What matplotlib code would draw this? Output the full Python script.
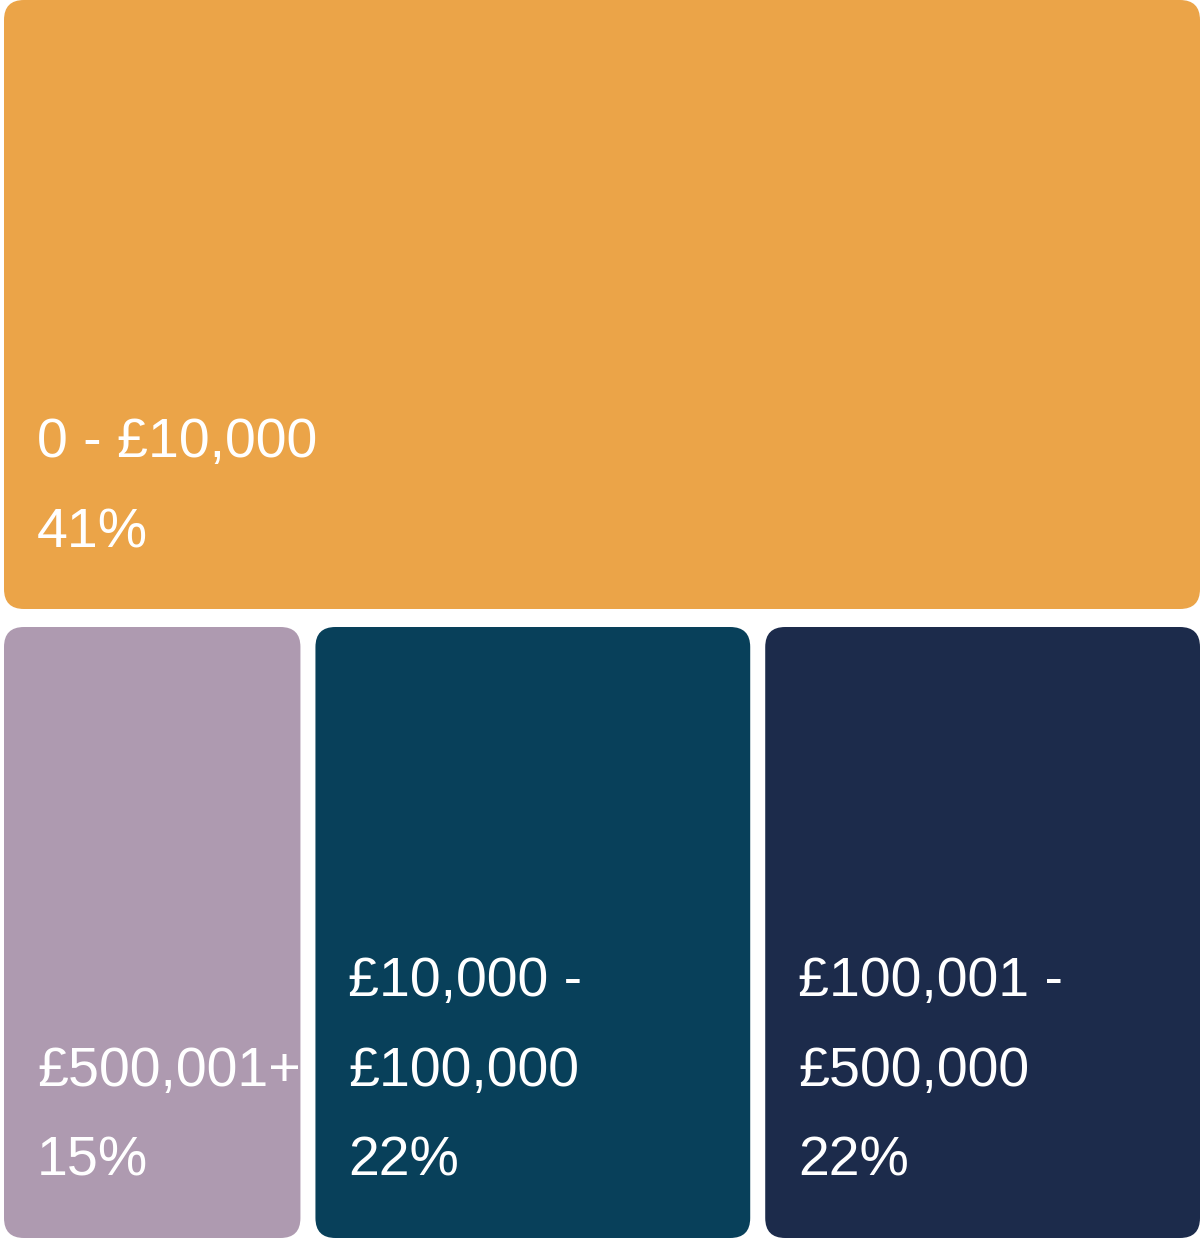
import matplotlib
matplotlib.use("Agg")
import matplotlib.pyplot as plt
from matplotlib.patches import FancyBboxPatch

# data
labels = ["0 - £10,000", "£500,001+", "£10,000 -\n£100,000", "£100,001 -\n£500,000"]
shares = [41, 15, 22, 22]
colors = ["#EBA448", "#AE9AB0", "#08405A", "#1C2B4B"]

W, H = 1202, 1240
fig = plt.figure(figsize=(W / 100, H / 100), dpi=100)
ax = fig.add_axes([0, 0, 1, 1])
ax.set_xlim(0, W)
ax.set_ylim(H, 0)
ax.axis("off")

# layout: first block alone on the top row, the rest share the bottom row
left, right, top, bottom = 4, 1200, 0, 1238
split = 609          # bottom edge of the top row
gap_y = 18
gap_x = 15
radius = 20

boxes = [(left, top, right - left, split - top)]
rest = shares[1:]
avail = (right - left) - gap_x * (len(rest) - 1)
x = left
for v in rest:
    w = avail * v / sum(rest)
    boxes.append((x, split + gap_y, w, bottom - split - gap_y))
    x += w + gap_x

for (bx, by, bw, bh), lab, val, col in zip(boxes, labels, shares, colors):
    ax.add_patch(FancyBboxPatch((bx, by), bw, bh,
                                boxstyle=f"round,pad=0,rounding_size={radius}",
                                facecolor=col, edgecolor="none"))
    lines = lab.split("\n") + [f"{val}%"]
    base = by + bh - 62
    for i, line in enumerate(reversed(lines)):
        ax.text(bx + 33, base - i * 90, line, color="white", fontsize=40,
                family="Liberation Sans", ha="left", va="baseline")

fig.savefig("out.png", dpi=100)
